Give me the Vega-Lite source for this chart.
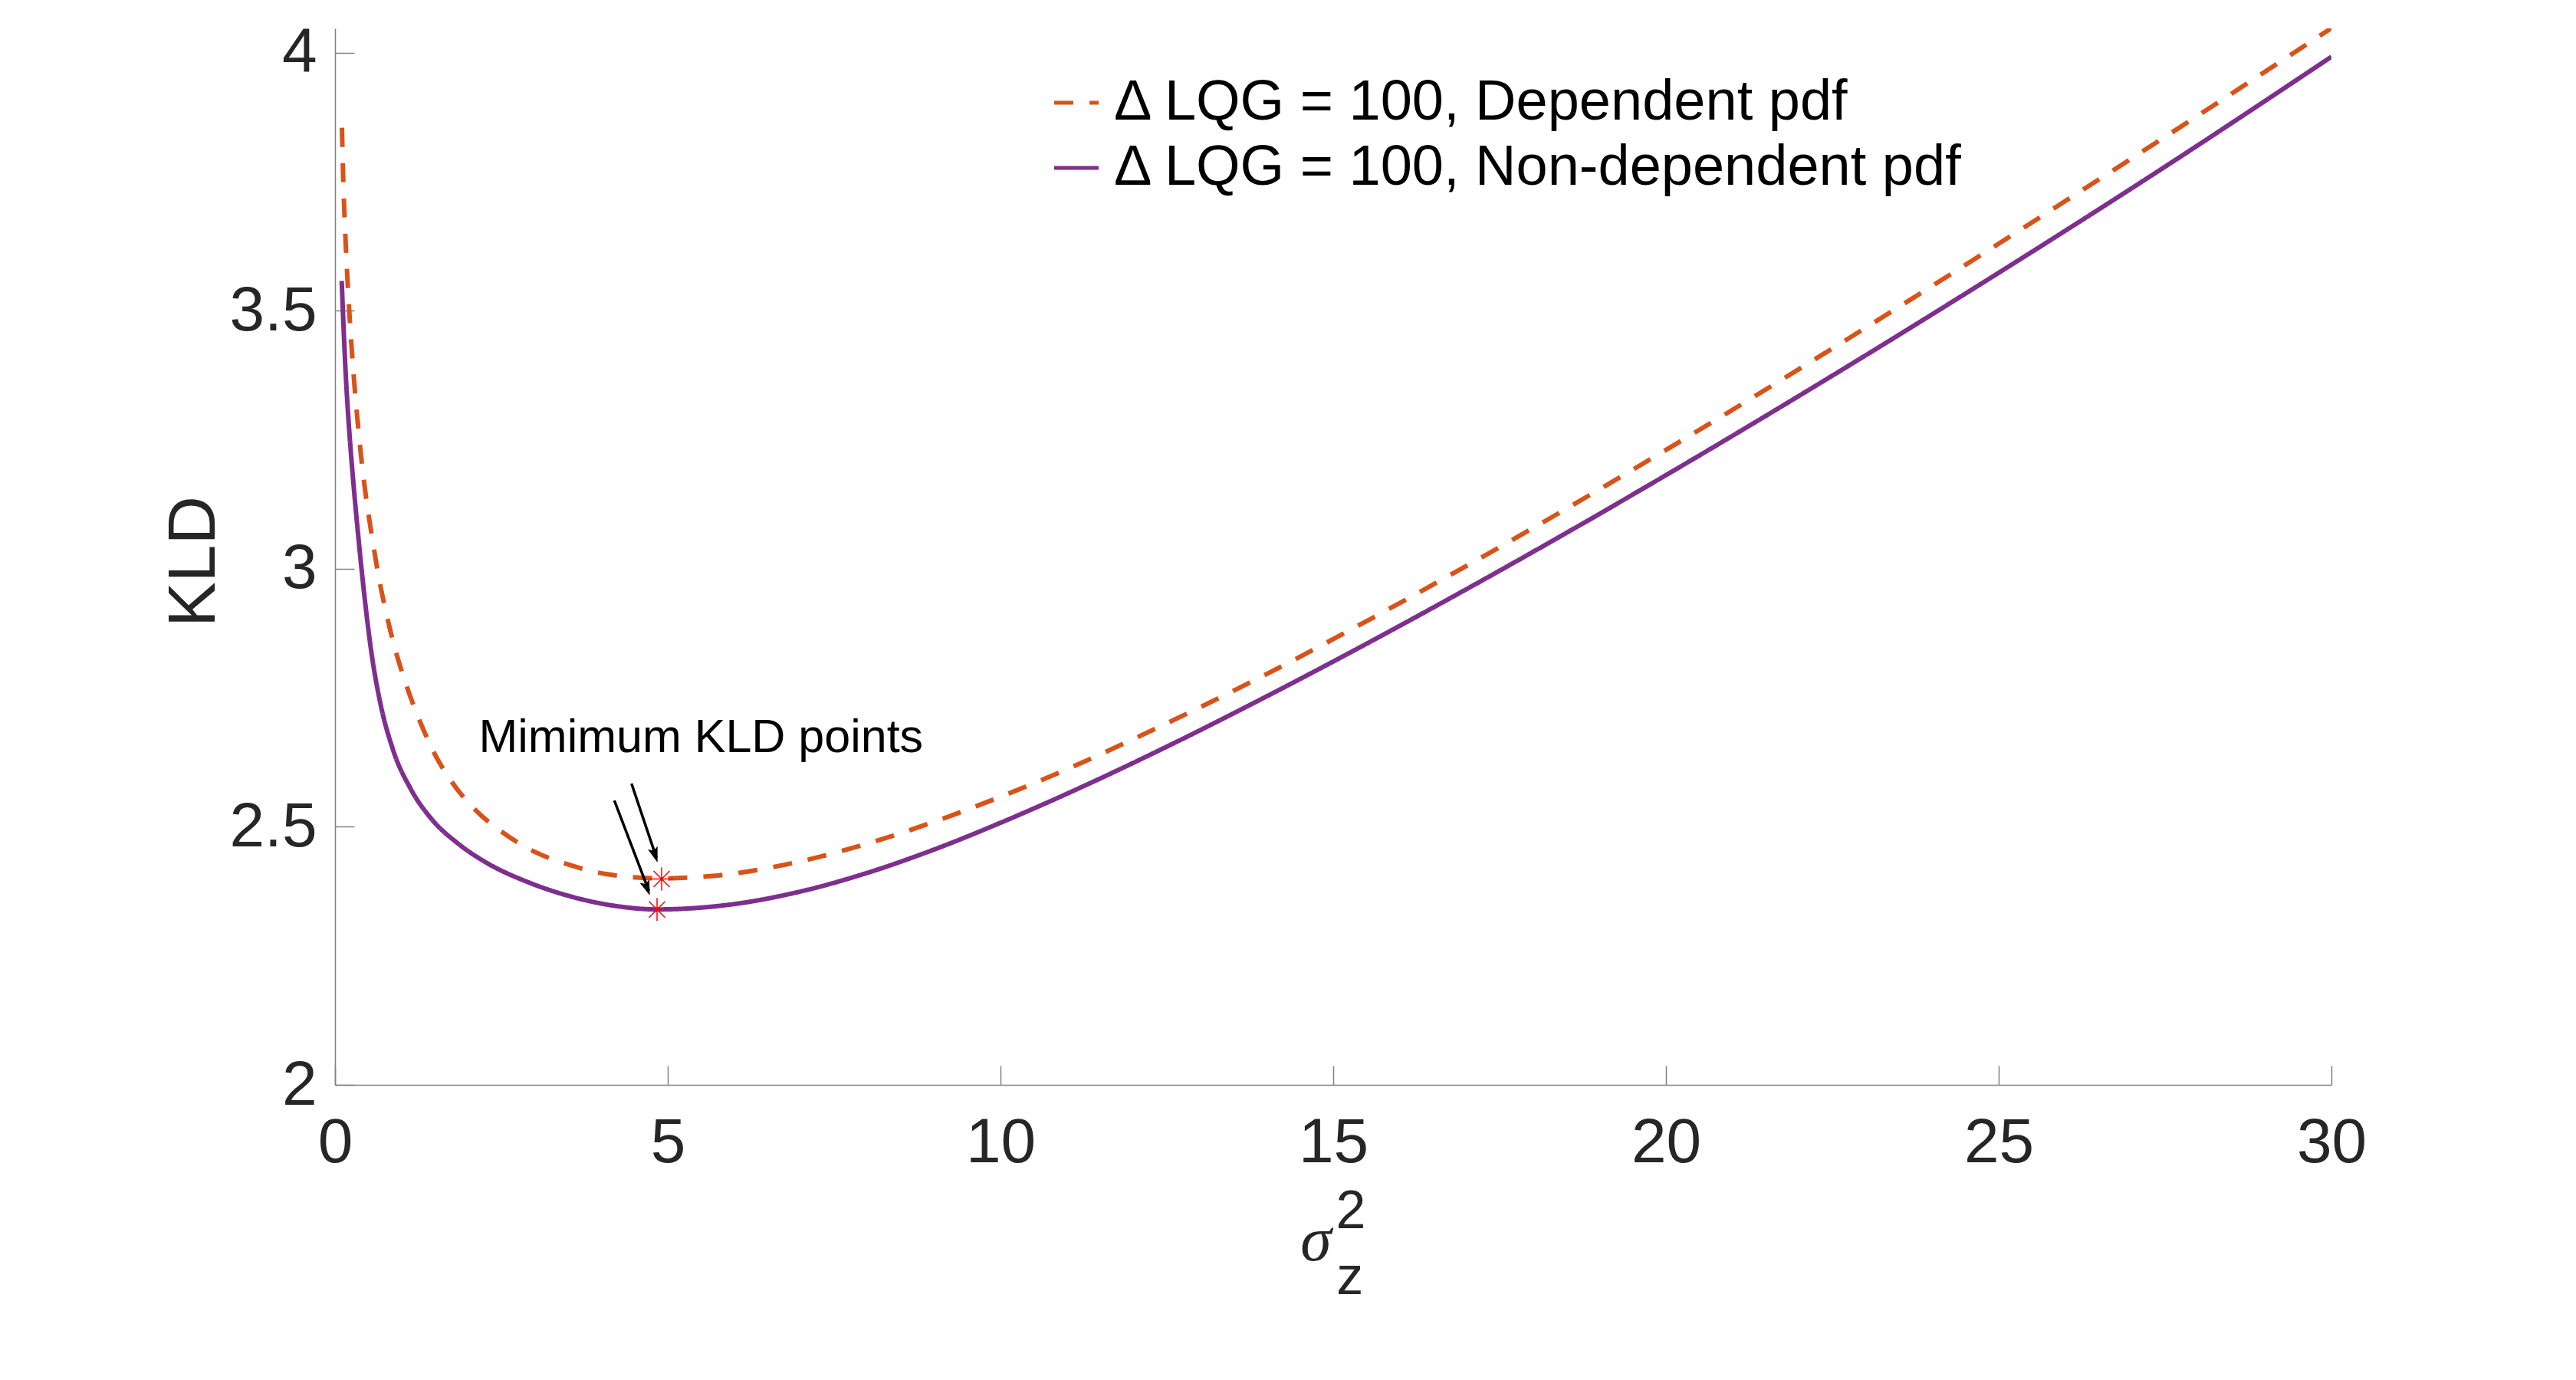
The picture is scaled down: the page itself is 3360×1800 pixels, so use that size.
{
  "$schema": "https://vega.github.io/schema/vega-lite/v6.json",
  "width": 2604,
  "height": 1378,
  "autosize": {"type": "none"},
  "padding": {"left": 437, "top": 37, "right": 319, "bottom": 385},
  "background": "white",
  "config": {"view": {"stroke": null}, "font": "Liberation Sans"},
  "datasets": {
    "curves": [
      {"sigma_z2": 0.1037, "kld": 3.8548, "series": "Δ LQG = 100, Dependent pdf"},
      {"sigma_z2": 0.1205, "kld": 3.7682, "series": "Δ LQG = 100, Dependent pdf"},
      {"sigma_z2": 0.1388, "kld": 3.6964, "series": "Δ LQG = 100, Dependent pdf"},
      {"sigma_z2": 0.1618, "kld": 3.626, "series": "Δ LQG = 100, Dependent pdf"},
      {"sigma_z2": 0.1892, "kld": 3.5553, "series": "Δ LQG = 100, Dependent pdf"},
      {"sigma_z2": 0.2215, "kld": 3.4834, "series": "Δ LQG = 100, Dependent pdf"},
      {"sigma_z2": 0.2589, "kld": 3.4116, "series": "Δ LQG = 100, Dependent pdf"},
      {"sigma_z2": 0.3023, "kld": 3.3398, "series": "Δ LQG = 100, Dependent pdf"},
      {"sigma_z2": 0.3507, "kld": 3.2704, "series": "Δ LQG = 100, Dependent pdf"},
      {"sigma_z2": 0.4079, "kld": 3.1987, "series": "Δ LQG = 100, Dependent pdf"},
      {"sigma_z2": 0.4631, "kld": 3.1416, "series": "Δ LQG = 100, Dependent pdf"},
      {"sigma_z2": 0.5611, "kld": 3.0575, "series": "Δ LQG = 100, Dependent pdf"},
      {"sigma_z2": 0.6532, "kld": 2.9866, "series": "Δ LQG = 100, Dependent pdf"},
      {"sigma_z2": 0.7615, "kld": 2.9187, "series": "Δ LQG = 100, Dependent pdf"},
      {"sigma_z2": 0.8929, "kld": 2.8495, "series": "Δ LQG = 100, Dependent pdf"},
      {"sigma_z2": 1.0565, "kld": 2.7801, "series": "Δ LQG = 100, Dependent pdf"},
      {"sigma_z2": 1.2488, "kld": 2.7132, "series": "Δ LQG = 100, Dependent pdf"},
      {"sigma_z2": 1.4677, "kld": 2.6489, "series": "Δ LQG = 100, Dependent pdf"},
      {"sigma_z2": 1.7558, "kld": 2.5869, "series": "Δ LQG = 100, Dependent pdf"},
      {"sigma_z2": 2.1118, "kld": 2.5324, "series": "Δ LQG = 100, Dependent pdf"},
      {"sigma_z2": 2.5346, "kld": 2.4878, "series": "Δ LQG = 100, Dependent pdf"},
      {"sigma_z2": 3.015, "kld": 2.4507, "series": "Δ LQG = 100, Dependent pdf"},
      {"sigma_z2": 3.5334, "kld": 2.426, "series": "Δ LQG = 100, Dependent pdf"},
      {"sigma_z2": 4.0703, "kld": 2.4086, "series": "Δ LQG = 100, Dependent pdf"},
      {"sigma_z2": 4.8767, "kld": 2.4001, "series": "Δ LQG = 100, Dependent pdf"},
      {"sigma_z2": 5.68, "kld": 2.4049, "series": "Δ LQG = 100, Dependent pdf"},
      {"sigma_z2": 7, "kld": 2.4333, "series": "Δ LQG = 100, Dependent pdf"},
      {"sigma_z2": 8, "kld": 2.4674, "series": "Δ LQG = 100, Dependent pdf"},
      {"sigma_z2": 9, "kld": 2.5097, "series": "Δ LQG = 100, Dependent pdf"},
      {"sigma_z2": 10, "kld": 2.5583, "series": "Δ LQG = 100, Dependent pdf"},
      {"sigma_z2": 11, "kld": 2.6117, "series": "Δ LQG = 100, Dependent pdf"},
      {"sigma_z2": 12, "kld": 2.6703, "series": "Δ LQG = 100, Dependent pdf"},
      {"sigma_z2": 14, "kld": 2.7962, "series": "Δ LQG = 100, Dependent pdf"},
      {"sigma_z2": 16, "kld": 2.9338, "series": "Δ LQG = 100, Dependent pdf"},
      {"sigma_z2": 18, "kld": 3.0789, "series": "Δ LQG = 100, Dependent pdf"},
      {"sigma_z2": 20, "kld": 3.2305, "series": "Δ LQG = 100, Dependent pdf"},
      {"sigma_z2": 22, "kld": 3.3872, "series": "Δ LQG = 100, Dependent pdf"},
      {"sigma_z2": 24, "kld": 3.5482, "series": "Δ LQG = 100, Dependent pdf"},
      {"sigma_z2": 26, "kld": 3.7128, "series": "Δ LQG = 100, Dependent pdf"},
      {"sigma_z2": 28, "kld": 3.879, "series": "Δ LQG = 100, Dependent pdf"},
      {"sigma_z2": 30, "kld": 4.048, "series": "Δ LQG = 100, Dependent pdf"},
      {"sigma_z2": 0.1002, "kld": 3.558, "series": "Δ LQG = 100, Non-dependent pdf"},
      {"sigma_z2": 0.1233, "kld": 3.4834, "series": "Δ LQG = 100, Non-dependent pdf"},
      {"sigma_z2": 0.1578, "kld": 3.3844, "series": "Δ LQG = 100, Non-dependent pdf"},
      {"sigma_z2": 0.2039, "kld": 3.2853, "series": "Δ LQG = 100, Non-dependent pdf"},
      {"sigma_z2": 0.2471, "kld": 3.211, "series": "Δ LQG = 100, Non-dependent pdf"},
      {"sigma_z2": 0.2961, "kld": 3.1367, "series": "Δ LQG = 100, Non-dependent pdf"},
      {"sigma_z2": 0.3687, "kld": 3.0376, "series": "Δ LQG = 100, Non-dependent pdf"},
      {"sigma_z2": 0.4493, "kld": 2.9386, "series": "Δ LQG = 100, Non-dependent pdf"},
      {"sigma_z2": 0.5449, "kld": 2.8395, "series": "Δ LQG = 100, Non-dependent pdf"},
      {"sigma_z2": 0.6797, "kld": 2.7404, "series": "Δ LQG = 100, Non-dependent pdf"},
      {"sigma_z2": 0.871, "kld": 2.6495, "series": "Δ LQG = 100, Non-dependent pdf"},
      {"sigma_z2": 1.1406, "kld": 2.5727, "series": "Δ LQG = 100, Non-dependent pdf"},
      {"sigma_z2": 1.4597, "kld": 2.5137, "series": "Δ LQG = 100, Non-dependent pdf"},
      {"sigma_z2": 1.8433, "kld": 2.4681, "series": "Δ LQG = 100, Non-dependent pdf"},
      {"sigma_z2": 2.3041, "kld": 2.4284, "series": "Δ LQG = 100, Non-dependent pdf"},
      {"sigma_z2": 2.8802, "kld": 2.3938, "series": "Δ LQG = 100, Non-dependent pdf"},
      {"sigma_z2": 3.5714, "kld": 2.3641, "series": "Δ LQG = 100, Non-dependent pdf"},
      {"sigma_z2": 4.2, "kld": 2.347, "series": "Δ LQG = 100, Non-dependent pdf"},
      {"sigma_z2": 4.84, "kld": 2.34, "series": "Δ LQG = 100, Non-dependent pdf"},
      {"sigma_z2": 6, "kld": 2.3504, "series": "Δ LQG = 100, Non-dependent pdf"},
      {"sigma_z2": 7, "kld": 2.3749, "series": "Δ LQG = 100, Non-dependent pdf"},
      {"sigma_z2": 8, "kld": 2.4109, "series": "Δ LQG = 100, Non-dependent pdf"},
      {"sigma_z2": 9, "kld": 2.4559, "series": "Δ LQG = 100, Non-dependent pdf"},
      {"sigma_z2": 10, "kld": 2.5079, "series": "Δ LQG = 100, Non-dependent pdf"},
      {"sigma_z2": 11.09, "kld": 2.5695, "series": "Δ LQG = 100, Non-dependent pdf"},
      {"sigma_z2": 12.5, "kld": 2.6555, "series": "Δ LQG = 100, Non-dependent pdf"},
      {"sigma_z2": 14.09, "kld": 2.7589, "series": "Δ LQG = 100, Non-dependent pdf"},
      {"sigma_z2": 15.5, "kld": 2.8548, "series": "Δ LQG = 100, Non-dependent pdf"},
      {"sigma_z2": 17.09, "kld": 2.9669, "series": "Δ LQG = 100, Non-dependent pdf"},
      {"sigma_z2": 18.5, "kld": 3.0694, "series": "Δ LQG = 100, Non-dependent pdf"},
      {"sigma_z2": 20, "kld": 3.1816, "series": "Δ LQG = 100, Non-dependent pdf"},
      {"sigma_z2": 22.5, "kld": 3.3744, "series": "Δ LQG = 100, Non-dependent pdf"},
      {"sigma_z2": 25, "kld": 3.5738, "series": "Δ LQG = 100, Non-dependent pdf"},
      {"sigma_z2": 27.5, "kld": 3.7794, "series": "Δ LQG = 100, Non-dependent pdf"},
      {"sigma_z2": 30, "kld": 3.9925, "series": "Δ LQG = 100, Non-dependent pdf"}
    ],
    "minima": [
      {"sigma_z2": 4.908, "kld": 2.399, "series": "Δ LQG = 100, Dependent pdf"},
      {"sigma_z2": 4.839, "kld": 2.34, "series": "Δ LQG = 100, Non-dependent pdf"}
    ]
  },
  "layer": [
    {
      "data": {"name": "curves"},
      "mark": {"type": "line", "strokeWidth": 6, "strokeCap": "butt", "interpolate": "monotone", "clip": true},
      "encoding": {
        "x": {
          "field": "sigma_z2",
          "type": "quantitative",
          "scale": {"domain": [0, 30], "nice": false, "zero": false},
          "axis": {
            "values": [0, 5, 10, 15, 20, 25, 30],
            "format": "d",
            "grid": false,
            "labelFont": "Liberation Sans",
            "labelFontSize": 82,
            "labelColor": "#262626",
            "labelPadding": 60,
            "labelFlush": false,
            "labelOverlap": false,
            "tickSize": -25,
            "tickColor": "#808080",
            "tickWidth": 1.5,
            "domainColor": "#808080",
            "domainWidth": 1.5,
            "title": "σ",
            "titleFont": "Liberation Serif",
            "titleFontStyle": "italic",
            "titleFontWeight": "normal",
            "titleFontSize": 82,
            "titleColor": "#262626",
            "titleX": 1279,
            "titleY": 228,
            "titleAlign": "center",
            "titleBaseline": "alphabetic"
          }
        },
        "y": {
          "field": "kld",
          "type": "quantitative",
          "scale": {"domain": [2, 4.0475], "nice": false, "zero": false},
          "axis": {
            "values": [2, 2.5, 3, 3.5, 4],
            "format": "~g",
            "grid": false,
            "labelFont": "Liberation Sans",
            "labelFontSize": 82,
            "labelColor": "#262626",
            "labelPadding": 49,
            "labelOverlap": false,
            "tickSize": -25,
            "tickColor": "#808080",
            "tickWidth": 1.5,
            "domainColor": "#808080",
            "domainWidth": 1.5,
            "title": "KLD",
            "titleFont": "Liberation Sans",
            "titleFontWeight": "normal",
            "titleFontSize": 88,
            "titleColor": "#262626",
            "titleX": -184,
            "titleY": 695,
            "titleAlign": "center",
            "titleBaseline": "middle"
          }
        },
        "color": {
          "field": "series",
          "type": "nominal",
          "scale": {
            "domain": ["Δ LQG = 100, Dependent pdf", "Δ LQG = 100, Non-dependent pdf"],
            "range": ["#D95319", "#7E2F8E"]
          },
          "legend": {
            "title": null,
            "orient": "none",
            "legendX": 930,
            "legendY": 60,
            "padding": 0,
            "symbolType": "stroke",
            "symbolSize": 3364,
            "symbolStrokeWidth": 5,
            "labelFont": "Liberation Sans",
            "labelFontSize": 74,
            "labelColor": "black",
            "labelOffset": 12,
            "labelLimit": 0,
            "rowPadding": 11,
            "encode": {
              "symbols": {
                "update": {
                  "strokeDash": [
                    {"test": "datum.value === 'Δ LQG = 100, Dependent pdf'", "value": [20, 18]},
                    {"value": [1, 0]}
                  ]
                }
              }
            }
          }
        },
        "strokeDash": {
          "field": "series",
          "type": "nominal",
          "scale": {
            "domain": ["Δ LQG = 100, Dependent pdf", "Δ LQG = 100, Non-dependent pdf"],
            "range": [[25, 21], [1, 0]]
          },
          "legend": null
        }
      }
    },
    {
      "data": {"name": "minima"},
      "mark": {
        "type": "point",
        "shape": "M-1,0L1,0M0,-1L0,1M-0.7,-0.7L0.7,0.7M-0.7,0.7L0.7,-0.7",
        "filled": false,
        "stroke": "#FF0000",
        "strokeWidth": 1.5,
        "size": 900,
        "opacity": 1
      },
      "encoding": {
        "x": {"field": "sigma_z2", "type": "quantitative"},
        "y": {"field": "kld", "type": "quantitative"}
      }
    },
    {
      "data": {"values": [{}]},
      "mark": {"type": "rule", "color": "black", "strokeWidth": 3.5},
      "encoding": {
        "x": {"datum": 4.455, "type": "quantitative"},
        "y": {"datum": 2.584, "type": "quantitative"},
        "x2": {"datum": 4.83},
        "y2": {"datum": 2.44}
      }
    },
    {
      "data": {"values": [{}]},
      "mark": {"type": "rule", "color": "black", "strokeWidth": 3.5},
      "encoding": {
        "x": {"datum": 4.197, "type": "quantitative"},
        "y": {"datum": 2.551, "type": "quantitative"},
        "x2": {"datum": 4.715},
        "y2": {"datum": 2.376}
      }
    },
    {
      "data": {"values": [{}]},
      "mark": {
        "type": "point",
        "shape": "M0,0L-0.33,-1L0,-0.8L0.33,-1Z",
        "filled": true,
        "fill": "black",
        "strokeWidth": 0,
        "size": 1600,
        "angle": -18.2,
        "opacity": 1
      },
      "encoding": {
        "x": {"datum": 4.846, "type": "quantitative"},
        "y": {"datum": 2.431, "type": "quantitative"}
      }
    },
    {
      "data": {"values": [{}]},
      "mark": {
        "type": "point",
        "shape": "M0,0L-0.33,-1L0,-0.8L0.33,-1Z",
        "filled": true,
        "fill": "black",
        "strokeWidth": 0,
        "size": 1600,
        "angle": -20.5,
        "opacity": 1
      },
      "encoding": {
        "x": {"datum": 4.731, "type": "quantitative"},
        "y": {"datum": 2.367, "type": "quantitative"}
      }
    },
    {
      "data": {"values": [{}]},
      "mark": {"type": "text", "text": "Mimimum KLD points", "font": "Liberation Sans", "fontSize": 61, "color": "black", "align": "left", "baseline": "alphabetic"},
      "encoding": {
        "x": {"datum": 2.16, "type": "quantitative"},
        "y": {"datum": 2.645, "type": "quantitative"}
      }
    },
    {
      "data": {"values": [{}]},
      "mark": {"type": "text", "text": "2", "font": "Liberation Sans", "fontSize": 70, "color": "#262626", "align": "center", "baseline": "alphabetic"},
      "encoding": {
        "x": {"datum": 15.265, "type": "quantitative"},
        "y": {"datum": 1.7221, "type": "quantitative"}
      }
    },
    {
      "data": {"values": [{}]},
      "mark": {"type": "text", "text": "z", "font": "Liberation Sans", "fontSize": 70, "color": "#262626", "align": "center", "baseline": "alphabetic"},
      "encoding": {
        "x": {"datum": 15.25, "type": "quantitative"},
        "y": {"datum": 1.5944, "type": "quantitative"}
      }
    }
  ]
}
